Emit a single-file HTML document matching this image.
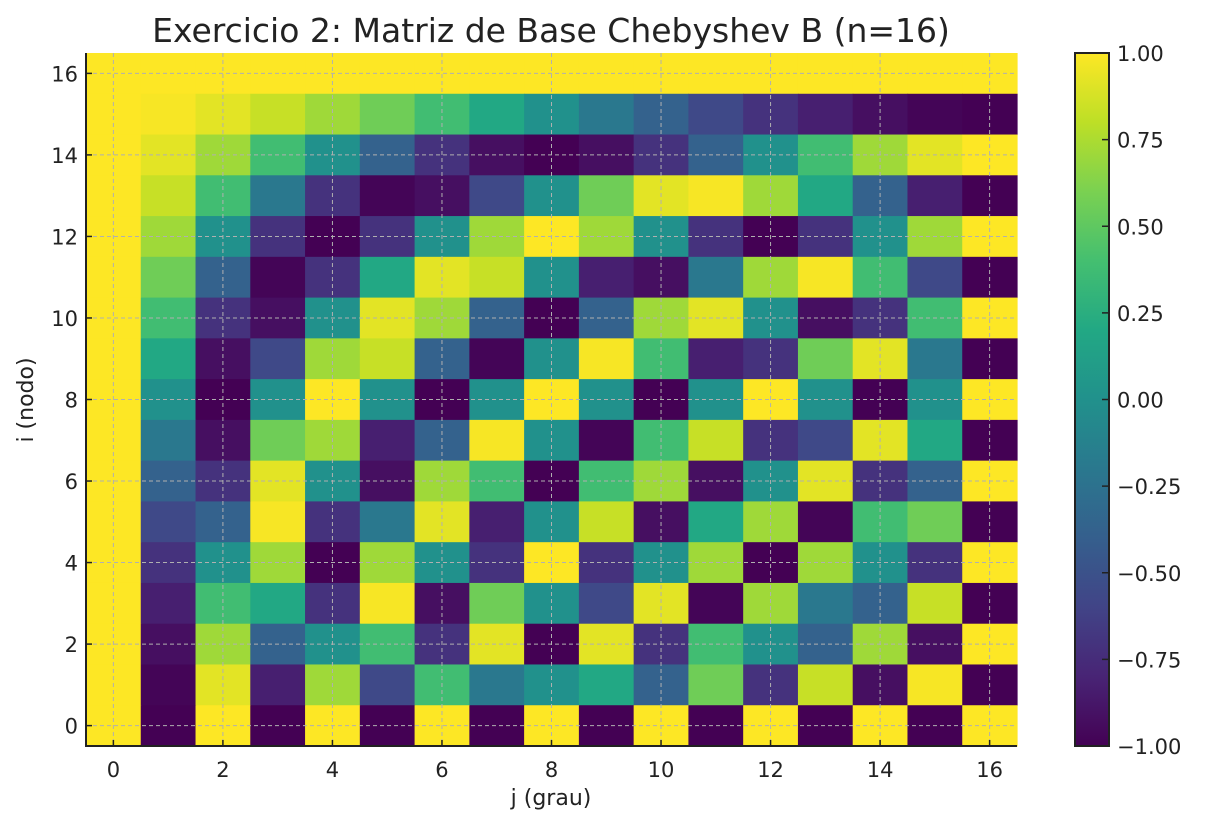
<!DOCTYPE html>
<html><head><meta charset="utf-8"><style>
body{margin:0;background:#fff;font-family:"DejaVu Sans","Liberation Sans",sans-serif;}
svg text{fill:#222;font-family:"DejaVu Sans","Liberation Sans",sans-serif;}
</style></head><body>
<svg id="chart" width="1208" height="825" xmlns="http://www.w3.org/2000/svg">
<defs><linearGradient id="vir" x1="0" y1="1" x2="0" y2="0">
<stop offset="0" stop-color="#440154"/><stop offset="0.1" stop-color="#482475"/><stop offset="0.2" stop-color="#414487"/><stop offset="0.3" stop-color="#355f8d"/><stop offset="0.4" stop-color="#2a788e"/><stop offset="0.5" stop-color="#21918c"/><stop offset="0.6" stop-color="#22a884"/><stop offset="0.7" stop-color="#44bf70"/><stop offset="0.8" stop-color="#7ad151"/><stop offset="0.9" stop-color="#bddf26"/><stop offset="1" stop-color="#fde725"/>
</linearGradient></defs>
<text x="551" y="42" font-size="33" text-anchor="middle">Exercicio 2: Matriz de Base Chebyshev B (n=16)</text>
<g id="cells"></g>
<g id="grid"></g>
<g id="axes"></g>
<text x="551" y="805" font-size="22" text-anchor="middle">j (grau)</text>
<text transform="translate(33,400) rotate(-90)" font-size="22" text-anchor="middle">i (nodo)</text>
<rect x="1075" y="53" width="34" height="693" fill="url(#vir)" stroke="#222" stroke-width="2"/>
<g id="cbticks"></g>
</svg>
<script>
// rows from i=16 (top) down to i=0 (bottom); columns j=0..16
const rowsTopDown = [
[1,1,1,1,1,1,1,1,1,1,1,1,1,1,1,1,1],
[1,.98,.92,.83,.71,.56,.38,.2,0,-.2,-.38,-.56,-.71,-.83,-.92,-.98,-1],
[1,.92,.71,.38,0,-.38,-.71,-.92,-1,-.92,-.71,-.38,0,.38,.71,.92,1],
[1,.83,.38,-.2,-.71,-.98,-.92,-.56,0,.56,.92,.98,.71,.2,-.38,-.83,-1],
[1,.71,0,-.71,-1,-.71,0,.71,1,.71,0,-.71,-1,-.71,0,.71,1],
[1,.56,-.38,-.98,-.71,.2,.92,.83,0,-.83,-.92,-.2,.71,.98,.38,-.56,-1],
[1,.38,-.71,-.92,0,.92,.71,-.38,-1,-.38,.71,.92,0,-.92,-.71,.38,1],
[1,.2,-.92,-.56,.71,.83,-.38,-.98,0,.98,.38,-.83,-.71,.56,.92,-.2,-1],
[1,0,-1,0,1,0,-1,0,1,0,-1,0,1,0,-1,0,1],
[1,-.2,-.92,.56,.71,-.83,-.38,.98,0,-.98,.38,.83,-.71,-.56,.92,.2,-1],
[1,-.38,-.71,.92,0,-.92,.71,.38,-1,.38,.71,-.92,0,.92,-.71,-.38,1],
[1,-.56,-.38,.98,-.71,-.2,.92,-.83,0,.83,-.92,.2,.71,-.98,.38,.56,-1],
[1,-.71,0,.71,-1,.71,0,-.71,1,-.71,0,.71,-1,.71,0,-.71,1],
[1,-.83,.38,.2,-.71,.98,-.92,.56,0,-.56,.92,-.98,.71,-.2,-.38,.83,-1],
[1,-.92,.71,-.38,0,.38,-.71,.92,-1,.92,-.71,.38,0,-.38,.71,-.92,1],
[1,-.98,.92,-.83,.71,-.56,.38,-.2,0,.2,-.38,.56,-.71,.83,-.92,.98,-1],
[1,-1,1,-1,1,-1,1,-1,1,-1,1,-1,1,-1,1,-1,1]
];
const xTicks = [0,2,4,6,8,10,12,14,16];
const yTicks = [0,2,4,6,8,10,12,14,16];
const cbTicks = [1,0.75,0.5,0.25,0,-0.25,-0.5,-0.75,-1];
const cbLabels = ["1.00","0.75","0.50","0.25","0.00","\u22120.25","\u22120.50","\u22120.75","\u22121.00"];

const L=86,R=1017,T=53,B=746,N=17;
const cw=(R-L)/N, ch=(B-T)/N;
const xPos=j=>L+(j+0.5)*cw;
const yPos=i=>B-(i+0.5)*ch;
const cbY=v=>746-(v+1)/2*693;
const vir=["#440154","#482475","#414487","#355f8d","#2a788e","#21918c","#22a884","#44bf70","#7ad151","#bddf26","#fde725"];
function hex(h){return [1,3,5].map(k=>parseInt(h.substr(k,2),16));}
function color(v){let t=Math.max(0,Math.min(1,(v+1)/2))*10;let a=Math.min(9,Math.floor(t)),f=t-a;
const c1=hex(vir[a]),c2=hex(vir[a+1]);return "rgb("+c1.map((c,k)=>Math.round(c+(c2[k]-c)*f)).join(",")+")";}
const NS="http://www.w3.org/2000/svg";
function mk(tag,attrs,parent){const e=document.createElementNS(NS,tag);for(const k in attrs)e.setAttribute(k,attrs[k]);parent.appendChild(e);return e;}
const cells=document.getElementById('cells');
rowsTopDown.forEach((row,r)=>{const i=N-1-r;row.forEach((v,j)=>{
const e=mk('rect',{x:xPos(j)-cw/2,y:yPos(i)-ch/2,width:cw+0.6,height:ch+0.6,fill:color(v)},cells);


});});
const grid=document.getElementById('grid'),axes=document.getElementById('axes');
xTicks.forEach(t=>{const x=xPos(t);
const g=mk('line',{x1:x,x2:x,y1:T,y2:B,stroke:'#b0b0b0','stroke-width':1,'stroke-dasharray':'4,3'},grid);


mk('line',{x1:x,x2:x,y1:B,y2:B-6,stroke:'#222','stroke-width':1.5},axes);
const tx=mk('text',{x:x,y:B+31,'font-size':21,'text-anchor':'middle'},axes);tx.textContent=t;


});
yTicks.forEach(t=>{const y=yPos(t);
const g=mk('line',{x1:L,x2:R,y1:y,y2:y,stroke:'#b0b0b0','stroke-width':1,'stroke-dasharray':'4,3'},grid);


mk('line',{x1:L,x2:L+6,y1:y,y2:y,stroke:'#222','stroke-width':1.5},axes);
const tx=mk('text',{x:L-8,y:y+8,'font-size':21,'text-anchor':'end'},axes);tx.textContent=t;


});
mk('line',{x1:L,x2:L,y1:T,y2:B+1,stroke:'#222','stroke-width':2},axes);
mk('line',{x1:L-1,x2:R,y1:B,y2:B,stroke:'#222','stroke-width':2},axes);
const cb=document.getElementById('cbticks');
cbTicks.forEach((v,k)=>{const y=cbY(v);
mk('line',{x1:1102,x2:1109,y1:y,y2:y,stroke:'#222','stroke-width':1.5},cb);
const tx=mk('text',{x:1117,y:y+8,'font-size':21},cb);tx.textContent=cbLabels[k];


});
</script>
</body></html>
